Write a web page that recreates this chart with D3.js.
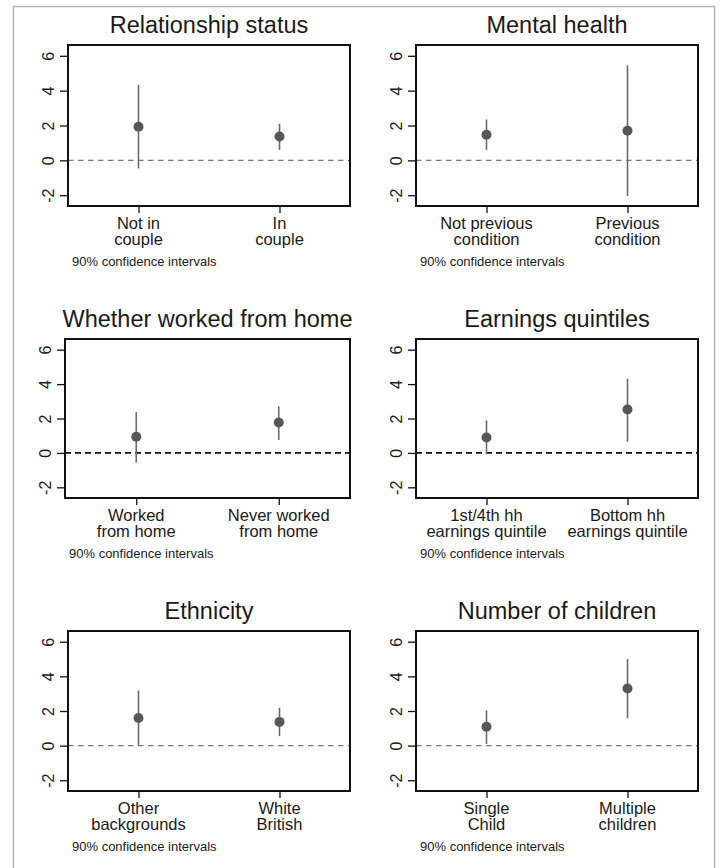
<!DOCTYPE html>
<html>
<head>
<meta charset="utf-8">
<script src="https://cdn.jsdelivr.net/npm/d3@7"></script>
<style>
  html, body { margin: 0; padding: 0; background: #ffffff; }
  svg { display: block; }
  text { font-family: "Liberation Sans", Arial, Helvetica, sans-serif; fill: #1a1a1a; }
</style>
</head>
<body>
<svg id="chart" width="722" height="868"></svg>
<script>
// ---------- data ----------
const titles = ["Relationship status", "Mental health", "Whether worked from home",
                "Earnings quintiles", "Ethnicity", "Number of children"];
const categories = [
  [["Not in", "couple"], ["In", "couple"]],
  [["Not previous", "condition"], ["Previous", "condition"]],
  [["Worked", "from home"], ["Never worked", "from home"]],
  [["1st/4th hh", "earnings quintile"], ["Bottom hh", "earnings quintile"]],
  [["Other", "backgrounds"], ["White", "British"]],
  [["Single", "Child"], ["Multiple", "children"]]
];
const estimates = [[1.93, 1.37], [1.47, 1.70], [0.94, 1.77], [0.90, 2.52], [1.60, 1.37], [1.09, 3.30]];
const lower     = [[-0.46, 0.60], [0.60, -2.05], [-0.56, 0.75], [-0.08, 0.65], [0.00, 0.55], [0.10, 1.58]];
const upper     = [[4.32, 2.10], [2.34, 5.45], [2.37, 2.71], [1.89, 4.31], [3.18, 2.19], [2.04, 5.01]];
const yTicks = [-2, 0, 2, 4, 6];
const yDomain = [-2.62, 6.62];
const note = "90% confidence intervals";

// ---------- layout ----------
const svg = d3.select("#chart");
const boxes = [
  {x0: 68,  x1: 350, y0: 45,  y1: 206},
  {x0: 416, x1: 698, y0: 45,  y1: 206},
  {x0: 65,  x1: 350, y0: 339, y1: 498},
  {x0: 416, x1: 698, y0: 339, y1: 498},
  {x0: 68,  x1: 350, y0: 631, y1: 791},
  {x0: 416, x1: 698, y0: 631, y1: 791}
];
const heavyZero = [false, false, true, true, false, false];

// outer frame
svg.append("rect")
  .attr("x", 13.5).attr("y", 6.5).attr("width", 701).attr("height", 880)
  .attr("fill", "none").attr("stroke", "#b5b5b5").attr("stroke-width", 1.5);

titles.forEach((title, i) => {
  const b = boxes[i];
  const w = b.x1 - b.x0, h = b.y1 - b.y0;
  const g = svg.append("g").attr("transform", `translate(${b.x0},${b.y0})`);

  const x = d3.scalePoint().domain([0, 1]).range([0, w]).padding(0.5);
  const y = d3.scaleLinear().domain(yDomain).range([h, 0]);

  // title
  svg.append("text")
    .attr("x", (b.x0 + b.x1) / 2).attr("y", b.y0 - 12)
    .attr("text-anchor", "middle")
    .style("font-size", "23.5px")
    .text(title);

  // zero line
  g.append("line")
    .attr("x1", 0).attr("x2", w)
    .attr("y1", y(0)).attr("y2", y(0))
    .attr("stroke", heavyZero[i] ? "#111" : "#7a7a7a")
    .attr("stroke-width", heavyZero[i] ? 1.6 : 1.1)
    .attr("stroke-dasharray", heavyZero[i] ? "6,4" : "5.5,4.5");

  // y axis
  const yAxis = d3.axisLeft(y).tickValues(yTicks).tickSize(8).tickFormat(d => String(d));
  const ya = g.append("g").call(yAxis);
  ya.select(".domain").remove();
  ya.selectAll(".tick line").attr("stroke", "#111").attr("stroke-width", 1.3);
  ya.selectAll(".tick text")
    .attr("transform", "rotate(-90)")
    .attr("x", 0).attr("y", -14.5).attr("dy", 0)
    .attr("text-anchor", "middle")
    .style("font-size", "16px")
    .style("font-family", "\"Liberation Sans\", Arial, sans-serif")
    .attr("fill", "#1a1a1a");

  // x axis
  const xAxis = d3.axisBottom(x).tickSize(7).tickFormat("");
  const xa = g.append("g").attr("transform", `translate(0,${h})`).call(xAxis);
  xa.select(".domain").remove();
  xa.selectAll(".tick line").attr("stroke", "#111").attr("stroke-width", 1.3);

  // category labels
  categories[i].forEach((lines, k) => {
    const t = g.append("text")
      .attr("x", x(k)).attr("y", h + 22.5)
      .attr("text-anchor", "middle")
      .style("font-size", "16.5px");
    lines.forEach((ln, j) => {
      t.append("tspan").attr("x", x(k)).attr("dy", j === 0 ? 0 : 16.5).text(ln);
    });
  });

  // note
  g.append("text")
    .attr("x", 4).attr("y", h + 60)
    .style("font-size", "13px")
    .text(note);

  // CIs
  g.selectAll("line.ci").data([0, 1]).join("line")
    .attr("class", "ci")
    .attr("x1", k => x(k)).attr("x2", k => x(k))
    .attr("y1", k => y(lower[i][k])).attr("y2", k => y(upper[i][k]))
    .attr("stroke", "#6b6b6b").attr("stroke-width", 1.6);

  // points
  g.selectAll("circle.pt").data([0, 1]).join("circle")
    .attr("class", "pt")
    .attr("cx", k => x(k)).attr("cy", k => y(estimates[i][k]))
    .attr("r", 5)
    .attr("fill", "#53585c");

  // plot box
  g.append("rect")
    .attr("x", 0).attr("y", 0).attr("width", w).attr("height", h)
    .attr("fill", "none").attr("stroke", "#111").attr("stroke-width", 2);
});
</script>
</body>
</html>
